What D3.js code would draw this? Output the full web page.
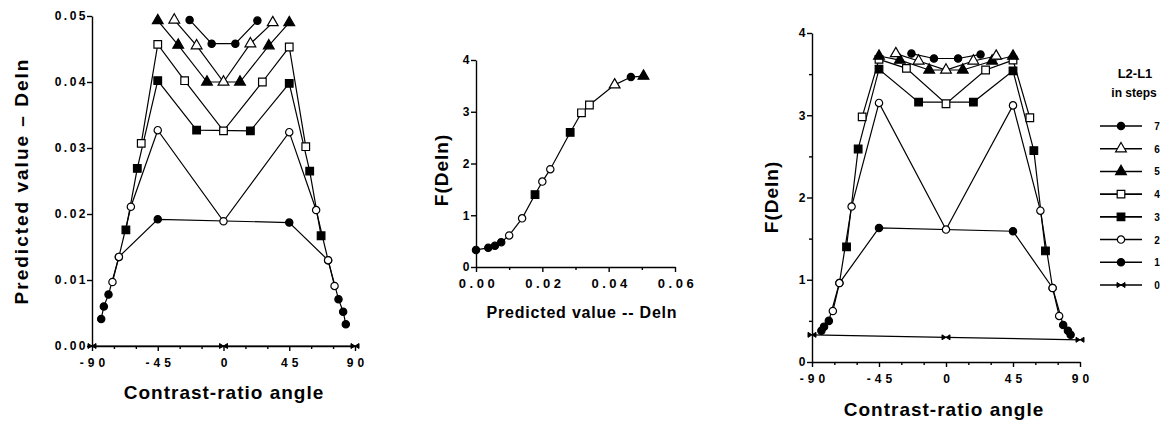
<!DOCTYPE html>
<meta charset="utf-8">
<style>
body { margin: 0; background: #fff; }
svg { display: block; font-family: "Liberation Sans", Arial, sans-serif; }
.axis path, .axis line { stroke: #000; stroke-width: 1.4px; fill: none; }
.axis text { font-size: 12px; font-weight: bold; fill: #000; letter-spacing: 2.5px; font-family: "Liberation Sans", Arial, sans-serif; }
.axis.xax text { letter-spacing: 4px; }
.axis.midx text { font-size: 13px; letter-spacing: 3.5px; }
.title { font-size: 19px; font-weight: bold; fill: #000; letter-spacing: 1px; }
.line { fill: none; stroke: #000; stroke-width: 1.2px; }
.legend text { font-weight: bold; fill: #000; }
</style>
<body>
<svg width="1172" height="423"></svg>
<script src="https://d3js.org/d3.v7.min.js"></script>
<script>
// series: L2-L1 in steps (0..7); angle, predicted Deln (left), F(Deln) (right)
var angle0 = [-90, 0, 90];
var deln0  = [0, 0, 0];
var f0     = [0.33, 0.30, 0.27];

var angle1 = [-83.7, -81.9, -78.7, -71.6, -45, 45, 71.6, 78.7, 81.9, 83.7];
var deln1  = [0.0041, 0.0060, 0.0078, 0.0135, 0.0192, 0.0187, 0.0130, 0.0071, 0.0052, 0.0033];
var f1     = [0.38, 0.43, 0.50, 0.96, 1.63, 1.59, 0.90, 0.45, 0.38, 0.33];

var angle2 = [-76, -71.6, -63.4, -45, 0, 45, 63.4, 71.6, 76];
var deln2  = [0.0097, 0.0135, 0.0211, 0.0327, 0.0189, 0.0324, 0.0206, 0.0130, 0.0091];
var f2     = [0.62, 0.96, 1.89, 3.15, 1.61, 3.12, 1.84, 0.90, 0.56];

var angle3 = [-66.8, -59, -45, -18.4, 18.4, 45, 59, 66.8];
var deln3  = [0.0176, 0.0269, 0.0402, 0.0327, 0.0326, 0.0398, 0.0265, 0.0167];
var f3     = [1.40, 2.59, 3.56, 3.16, 3.16, 3.54, 2.57, 1.35];

var angle4 = [-56.3, -45, -26.6, 0, 26.6, 45, 56.3];
var deln4  = [0.0307, 0.0457, 0.0402, 0.0326, 0.0400, 0.0453, 0.0302];
var f4     = [2.98, 3.68, 3.57, 3.14, 3.55, 3.67, 2.97];

var angle5 = [-45, -31, -11.3, 11.3, 31, 45];
var deln5  = [0.0493, 0.0456, 0.0400, 0.0400, 0.0455, 0.0490];
var f5     = [3.72, 3.67, 3.55, 3.55, 3.66, 3.72];

var angle6 = [-33.7, -18.4, 0, 18.4, 33.7];
var deln6  = [0.0494, 0.0455, 0.0400, 0.0458, 0.0490];
var f6     = [3.75, 3.66, 3.55, 3.66, 3.72];

var angle7 = [-23.2, -8.1, 8.1, 23.2];
var deln7  = [0.0494, 0.0458, 0.0458, 0.0493];
var f7     = [3.75, 3.69, 3.69, 3.74];

// middle panel: F as a function of Deln
var midDeln = [0, 0.0037, 0.0057, 0.0076, 0.0100, 0.0139, 0.0178, 0.0200, 0.0224, 0.0284, 0.0318, 0.0342, 0.0418, 0.0467, 0.0505];
var midF    = [0.33, 0.37, 0.41, 0.48, 0.61, 0.94, 1.40, 1.65, 1.89, 2.60, 2.98, 3.13, 3.52, 3.67, 3.69];
var midMark = ["fc", "fc", "fc", "fc", "oc", "oc", "fs", "oc", "oc", "fs", "os", "os", "ot", "fc", "ft"];

var steps = [7, 6, 5, 4, 3, 2, 1, 0];
var stepMark = {0: "bt", 1: "fc", 2: "oc", 3: "fs", 4: "os", 5: "ft", 6: "ot", 7: "fc"};

var angleTicks = [-90, -45, 0, 45, 90];
var angleMinor = [-75, -60, -30, -15, 15, 30, 60, 75];
var delnTicks = [0, 0.01, 0.02, 0.03, 0.04, 0.05];
var fTicks = [0, 1, 2, 3, 4];
var fMinor = [0.5, 1.5, 2.5, 3.5];
var midXTicks = [0, 0.02, 0.04, 0.06];
var midXMinor = [0.01, 0.03, 0.05];

var series = [
  {k: 0, angle: angle0, deln: deln0, f: f0},
  {k: 1, angle: angle1, deln: deln1, f: f1},
  {k: 2, angle: angle2, deln: deln2, f: f2},
  {k: 3, angle: angle3, deln: deln3, f: f3},
  {k: 4, angle: angle4, deln: deln4, f: f4},
  {k: 5, angle: angle5, deln: deln5, f: f5},
  {k: 6, angle: angle6, deln: deln6, f: f6},
  {k: 7, angle: angle7, deln: deln7, f: f7}
];

var svg = d3.select("svg");
svg.append("rect").attr("width", 1172).attr("height", 423).attr("fill", "#fff");

var xL = d3.scaleLinear().domain([-90, 90]).range([92, 355]);
var yL = d3.scaleLinear().domain([0, 0.05]).range([346, 16]);
var xM = d3.scaleLinear().domain([0, 0.06]).range([476, 675]);
var yM = d3.scaleLinear().domain([0, 4]).range([267, 60]);
var xR = d3.scaleLinear().domain([-90, 90]).range([812, 1080]);
var yR = d3.scaleLinear().domain([0, 4]).range([362, 33]);

var shapes = {
  fc: {sym: d3.symbolCircle, size: 42, fill: "#000"},
  oc: {sym: d3.symbolCircle, size: 42, fill: "#fff"},
  fs: {sym: d3.symbolSquare, size: 58, fill: "#000"},
  os: {sym: d3.symbolSquare, size: 58, fill: "#fff"},
  ft: {sym: d3.symbolTriangle, size: 50, fill: "#000"},
  ot: {sym: d3.symbolTriangle, size: 50, fill: "#fff"}
};

function addMarker(g, type, x, y) {
  if (type === "bt") {
    g.append("path")
      .attr("d", "M-4,-2.5L4,2.5L4,-2.5L-4,2.5Z")
      .attr("transform", "translate(" + x + "," + y + ")")
      .attr("fill", "#000").attr("stroke", "#000").attr("stroke-width", 1);
    return;
  }
  var s = shapes[type];
  g.append("path")
    .attr("d", d3.symbol().type(s.sym).size(s.size)())
    .attr("transform", "translate(" + x + "," + y + ")")
    .attr("fill", s.fill).attr("stroke", "#000").attr("stroke-width", 1.2);
}

function plain(d) { return String(d); }

function drawAxes(x, y, yTicks, yFmt, yMinor, xTicks, xFmt, xMinor, xClass) {
  var y0 = y.range()[0], x0 = x.range()[0];
  svg.append("g").attr("class", "axis")
    .attr("transform", "translate(" + x0 + ",0)")
    .call(d3.axisLeft(y).tickValues(yTicks).tickFormat(yFmt).tickSize(5).tickSizeOuter(0).tickPadding(2))
    .selectAll("text").attr("dx", "3");
  if (yMinor) {
    svg.append("g").attr("class", "axis")
      .attr("transform", "translate(" + x0 + ",0)")
      .call(d3.axisLeft(y).tickValues(yMinor).tickFormat("").tickSize(3).tickSizeOuter(0))
      .select(".domain").remove();
  }
  svg.append("g").attr("class", "axis " + xClass)
    .attr("transform", "translate(0," + y0 + ")")
    .call(d3.axisBottom(x).tickValues(xTicks).tickFormat(xFmt).tickSize(5).tickSizeOuter(0).tickPadding(7))
    .selectAll("text").attr("dx", "2");
  if (xMinor) {
    svg.append("g").attr("class", "axis")
      .attr("transform", "translate(0," + y0 + ")")
      .call(d3.axisBottom(x).tickValues(xMinor).tickFormat("").tickSize(3).tickSizeOuter(0))
      .select(".domain").remove();
  }
}

function drawSeries(x, y, key) {
  var g = svg.append("g");
  var line = d3.line().x(function(d) { return x(d[0]); }).y(function(d) { return y(d[1]); });
  series.forEach(function(s) {
    var pts = s.angle.map(function(a, i) { return [a, s[key][i]]; });
    g.append("path").datum(pts).attr("class", "line").attr("d", line);
  });
  series.forEach(function(s) {
    s.angle.forEach(function(a, i) {
      addMarker(g, stepMark[s.k], x(a), y(s[key][i]));
    });
  });
}

// left panel
drawAxes(xL, yL, delnTicks, d3.format(".2f"), null, angleTicks, plain, angleMinor, "xax");
drawSeries(xL, yL, "deln");
svg.append("text").attr("class", "title").style("letter-spacing", "2px")
  .attr("transform", "translate(28,181) rotate(-90)")
  .attr("text-anchor", "middle").text("Predicted value \u2013 Deln");
svg.append("text").attr("class", "title")
  .attr("x", 224).attr("y", 399).attr("text-anchor", "middle").text("Contrast-ratio angle");

// middle panel
drawAxes(xM, yM, fTicks, plain, null, midXTicks, d3.format(".2f"), midXMinor, "midx");
var gm = svg.append("g");
var midPts = midDeln.map(function(d, i) { return [d, midF[i]]; });
gm.append("path").datum(midPts).attr("class", "line")
  .attr("d", d3.line().x(function(d) { return xM(d[0]); }).y(function(d) { return yM(d[1]); }));
midPts.forEach(function(p, i) { addMarker(gm, midMark[i], xM(p[0]), yM(p[1])); });
svg.append("text").attr("class", "title")
  .attr("transform", "translate(448,170) rotate(-90)")
  .attr("text-anchor", "middle").text("F(Deln)");
svg.append("text").attr("class", "title").style("font-size", "16px").style("letter-spacing", "0.8px")
  .attr("x", 582).attr("y", 318).attr("text-anchor", "middle").text("Predicted value -- Deln");

// right panel
drawAxes(xR, yR, fTicks, plain, fMinor, angleTicks, plain, angleMinor, "xax");
drawSeries(xR, yR, "f");
svg.append("text").attr("class", "title")
  .attr("transform", "translate(778,197) rotate(-90)")
  .attr("text-anchor", "middle").text("F(Deln)");
svg.append("text").attr("class", "title")
  .attr("x", 944).attr("y", 416).attr("text-anchor", "middle").text("Contrast-ratio angle");

// legend
var lg = svg.append("g").attr("class", "legend");
lg.append("text").attr("x", 1135).attr("y", 78).attr("text-anchor", "middle")
  .style("font-size", "13px").text("L2-L1");
lg.append("text").attr("x", 1134).attr("y", 97).attr("text-anchor", "middle")
  .style("font-size", "12px").text("in steps");
var ly = d3.scaleLinear().domain([7, 0]).range([126, 285]);
steps.forEach(function(k) {
  var yy = ly(k);
  lg.append("line").attr("x1", 1100).attr("x2", 1142).attr("y1", yy).attr("y2", yy)
    .attr("stroke", "#000").attr("stroke-width", 1.6);
  addMarker(lg, stepMark[k], 1121, yy);
  lg.append("text").attr("x", 1157).attr("y", yy + 4).attr("text-anchor", "middle")
    .style("font-size", "10px").text(k);
});
</script>
